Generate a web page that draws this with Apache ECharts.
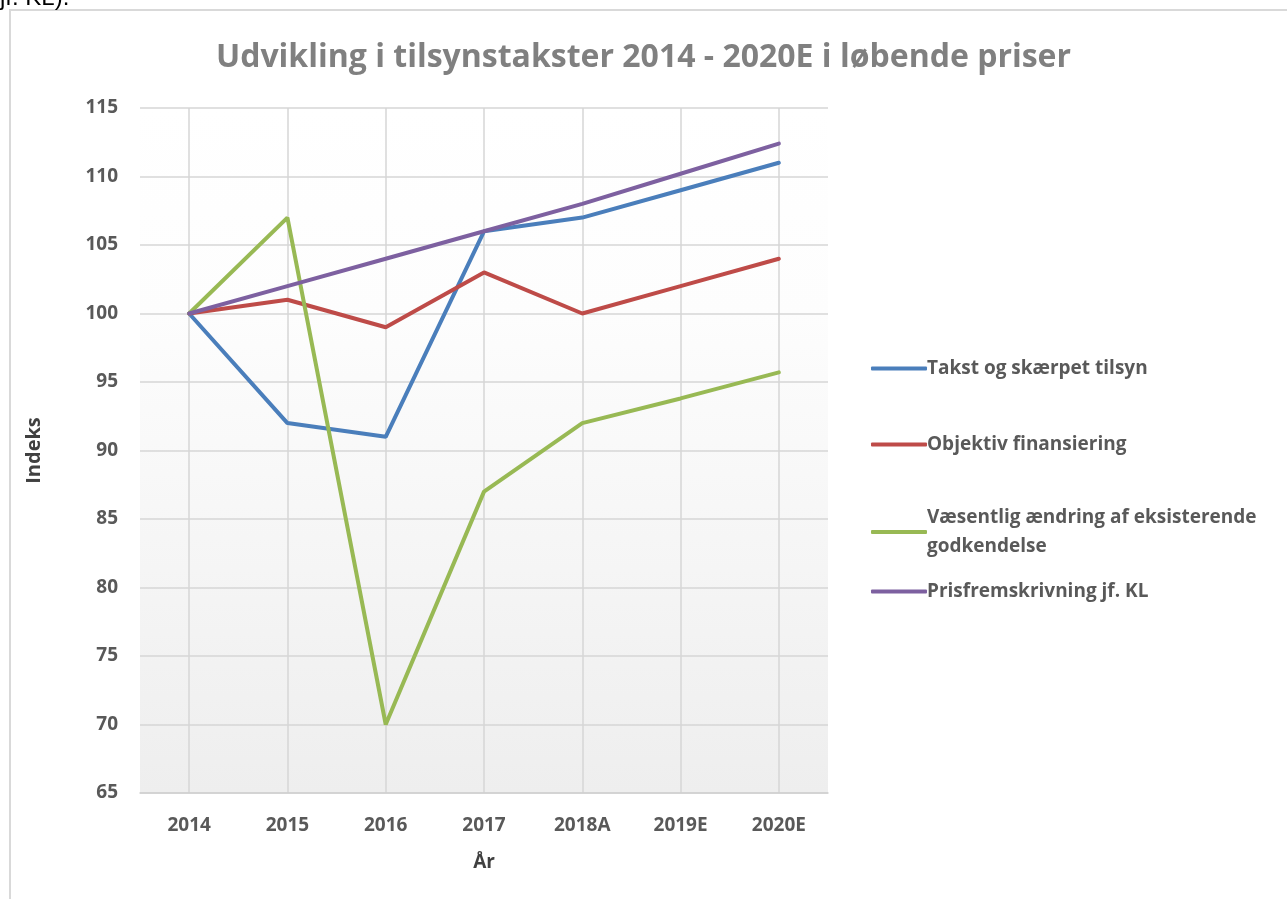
<!DOCTYPE html>
<html lang="da">
<head>
	<meta charset="UTF-8">
	<script src="https://cdn.jsdelivr.net/npm/echarts@6.0.0/dist/echarts.min.js"></script>
	<title>Udvikling i tilsynstakster</title>
	<style>
		html, body { margin: 0; padding: 0; background: #fff; }
		#main { width: 1287px; height: 899px; }
	</style>
</head>
<body>
	<div id="main"></div>
	<script>
		// data
		var years = ['2014', '2015', '2016', '2017', '2018A', '2019E', '2020E'];
		var takst = [100, 92, 91, 106, 107, 109, 111];
		var objektiv = [100, 101, 99, 103, 100, 102, 104];
		var vaesentlig = [100, 107, 70, 87, 92, 93.8, 95.7];
		var prisfrem = [100, 102, 104, 106, 108, 110.2, 112.4];

		var names = ['Takst og skærpet tilsyn', 'Objektiv finansiering',
			'Væsentlig ændring af eksisterende godkendelse', 'Prisfremskrivning jf. KL'];
		var colors = ['#4a7ebb', '#be4b48', '#98b954', '#7d60a0'];
		var values = [takst, objektiv, vaesentlig, prisfrem];

		var font = '"Open Sans", "Liberation Sans", sans-serif';
		var chart = echarts.init(document.getElementById('main'));

		// one legend per entry, so each can sit where the reference has it
		var legendTops = [349, 425, 498, 572];
		var legends = names.map(function (n, i) {
			return {
				orient: 'vertical',
				left: 866,
				top: legendTops[i],
				data: [n],
				icon: 'roundRect',
				itemWidth: 56,
				itemHeight: 4,
				itemGap: 0,
				selectedMode: false,
				formatter: function (name) {
					return name.replace('eksisterende ', 'eksisterende\n');
				},
				textStyle: {
					fontFamily: font, fontWeight: 'bold', fontSize: 19, color: '#595959',
					lineHeight: 29, padding: [0, 0, 0, -5]
				}
			};
		});

		chart.setOption({
			animation: false,
			title: {
				text: 'Udvikling i tilsynstakster 2014 - 2020E i løbende priser',
				left: 'center',
				top: 37,
				textStyle: { fontFamily: font, fontWeight: 'bold', fontSize: 32, color: '#808080' }
			},
			legend: legends,
			grid: {
				left: 140, right: 459, top: 108, bottom: 106,
				show: true,
				borderWidth: 0,
				backgroundColor: new echarts.graphic.LinearGradient(0, 0, 0, 1, [
					{ offset: 0, color: '#ffffff' },
					{ offset: 0.3, color: '#fdfdfd' },
					{ offset: 1, color: '#eeeeee' }
				])
			},
			graphic: [
				{ type: 'rect', shape: { x: 10, y: 10, width: 1300, height: 920 },
					style: { fill: 'none', stroke: '#d9d9d9', lineWidth: 2 }, silent: true },
				{ type: 'text', left: 0, top: -14,
					style: { text: 'jf. KL).', font: '24px "Liberation Sans", sans-serif', fill: '#000' } }
			],
			xAxis: {
				type: 'category',
				data: years,
				boundaryGap: true,
				name: 'År',
				nameLocation: 'middle',
				nameGap: 60,
				nameTextStyle: { fontFamily: font, fontWeight: 'bold', fontSize: 19, color: '#404040' },
				axisLine: { lineStyle: { color: '#d0d0d0', width: 1.5 } },
				axisTick: { show: false },
				axisLabel: { margin: 23, fontFamily: font, fontWeight: 'bold', fontSize: 19, color: '#595959' },
				splitLine: { show: true, alignWithLabel: true, lineStyle: { color: '#d6d6d6', width: 1.5 } }
			},
			yAxis: {
				type: 'value',
				min: 65, max: 115, interval: 5,
				name: 'Indeks',
				nameLocation: 'middle',
				nameGap: 96,
				nameTextStyle: { fontFamily: font, fontWeight: 'bold', fontSize: 20, color: '#404040' },
				axisLine: { show: false },
				axisTick: { show: false },
				axisLabel: { margin: 22, fontFamily: font, fontWeight: 'bold', fontSize: 19, color: '#595959' },
				splitLine: { lineStyle: { color: '#d6d6d6', width: 1.5 } }
			},
			series: names.map(function (n, i) {
				return {
					name: n,
					type: 'line',
					data: values[i],
					showSymbol: false,
					symbol: 'none',
					color: colors[i],
					lineStyle: { width: 4, color: colors[i], cap: 'round' },
					z: 3 + (i === 3 ? 1 : 0)
				};
			})
		});
	</script>
</body>
</html>
